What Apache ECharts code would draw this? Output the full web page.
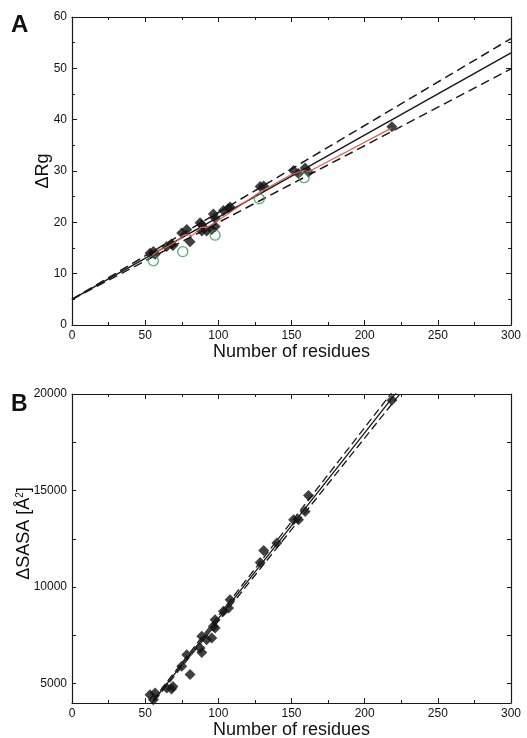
<!DOCTYPE html>
<html>
<head>
<meta charset="utf-8">
<script src="https://cdn.jsdelivr.net/npm/echarts@6/dist/echarts.min.js"></script>
<style>
html,body{margin:0;padding:0;background:#fff;}
#chart{width:527px;height:738px;}
</style>
</head>
<body>
<div id="chart"></div>
<script>
// ---------- Panel A data ----------
const residuesA = [53.3,55.6,56.8,64.7,68,69,75,78.4,80.7,87.5,88.7,88.7,92,95.5,96.6,97.8,97.8,103.5,107,108,128.6,131,151.4,154.8,159.3,161.6,218.6];
const rgA       = [14.0,14.3,13.8,15.3,15.8,15.5,17.9,18.6,16.2,19.9,18.3,19.5,18.3,18.6,21.6,20.8,19.2,22.3,22.7,23.0,27.0,27.1,30.1,29.5,30.6,29.8,38.6];
const greenX    = [55.6,75.7,97.8,128,158.6];
const greenY    = [12.5,14.3,17.5,24.6,28.7];
const redX      = [55,60,66,72,76,79,82,85,88,92,96,101,110,128,150,158,162,218];
const redY      = [13.6,14.6,15.4,16.4,17.4,17.6,17.4,18.2,19.0,19.0,19.6,20.6,22.3,25.8,29.3,30.1,29.9,38.3];
const fitAX     = [0,300];
const fitASolid = [5.0,53.0];
const fitAUpper = [5.0,55.8];
const fitALower = [5.0,49.9];

// ---------- Panel B data ----------
const residuesB = [53.3,55.6,56.8,64.7,68,69,75,78.4,80.7,87.5,88.7,88.7,92,95.5,96.6,97.8,97.8,103.5,107,108,128.6,131,140,151.4,154.8,159.3,161.6,218.6];
const sasaB     = [4430,4170,4520,4776,4720,4860,5900,6500,5470,6850,6620,7450,7280,7360,7970,8310,7880,8750,8920,9350,11280,11900,12280,13490,13490,13920,14740,19670];
const fitBX     = [0,300];
const fitBSolid = [-1240,27605];
const fitBUpper = [-1240,28010];
const fitBLower = [-1240,27200];
const yTicksB      = [5000,10000,15000,20000];
const yAllTicksB   = [5000,7500,10000,12500,15000,17500,20000];

const zip = (a,b) => a.map((v,i)=>[v,b[i]]);
const FONT = 'Liberation Sans, Arial, Helvetica, sans-serif';
const INK = '#1a1a1a';
const plain = v => String(v);

function xAx(grid, pos, labels, name){
  return {
    gridIndex: grid, type:'value', position: pos, min:0, max:300, interval:50,
    axisLine:{show:true, onZero:false, lineStyle:{color:INK, width:1.2}},
    axisTick:{show:true, inside:true, length:5, lineStyle:{color:INK}},
    minorTick:{show:true, splitNumber:2, length:3, lineStyle:{color:INK}},
    axisLabel:{show:labels, color:'#111', fontSize:12, fontFamily:FONT, margin:5, formatter:plain},
    splitLine:{show:false}, minorSplitLine:{show:false},
    name: name||'', nameLocation:'middle', nameGap:18, nameMoveOverlap:false,
    nameTextStyle:{fontSize:18, fontFamily:FONT, color:'#111'}
  };
}

const option = {
  backgroundColor:'#fff',
  animation:false,
  title:[
    {text:'A', left:11, top:13, padding:0, textStyle:{fontSize:24, fontWeight:'bold', fontFamily:FONT, color:'#111'}},
    {text:'B', left:11, top:393, padding:0, textStyle:{fontSize:23, fontWeight:'bold', fontFamily:FONT, color:'#111'}}
  ],
  grid:[
    {left:72, top:17, width:439, height:308, containLabel:false, outerBoundsMode:'none'},
    {left:72, top:394, width:439, height:309, containLabel:false, outerBoundsMode:'none'}
  ],
  xAxis:[
    xAx(0,'bottom',true,'Number of residues'),
    xAx(0,'top',false),
    xAx(1,'bottom',true,'Number of residues'),
    xAx(1,'top',false)
  ],
  yAxis:[
    // panel A left
    {gridIndex:0, type:'value', position:'left', min:0, max:60, interval:10,
     axisLine:{show:true, onZero:false, lineStyle:{color:INK, width:1.2}},
     axisTick:{show:true, inside:true, length:5, lineStyle:{color:INK}},
     minorTick:{show:true, splitNumber:2, length:3, lineStyle:{color:INK}},
     axisLabel:{color:'#111', fontSize:12, fontFamily:FONT, margin:5, formatter:plain},
     splitLine:{show:false},
     name:'ΔRg', nameLocation:'middle', nameGap:20, nameMoveOverlap:false,
     nameTextStyle:{fontSize:18, fontFamily:FONT, color:'#111'}},
    // panel A right
    {gridIndex:0, type:'value', position:'right', min:0, max:60, interval:10,
     axisLine:{show:true, onZero:false, lineStyle:{color:INK, width:1.2}},
     axisTick:{show:true, inside:true, length:5, lineStyle:{color:INK}},
     minorTick:{show:true, splitNumber:2, length:3, lineStyle:{color:INK}},
     axisLabel:{show:false}, splitLine:{show:false}},
    // panel B left
    {gridIndex:1, type:'value', position:'left', min:4000, max:20000,
     axisLine:{show:true, onZero:false, lineStyle:{color:INK, width:1.2}},
     axisTick:{show:true, inside:true, length:4, customValues:yAllTicksB, lineStyle:{color:INK}},
     axisLabel:{color:'#111', fontSize:12, fontFamily:FONT, margin:5, customValues:yTicksB, formatter:plain},
     splitLine:{show:false},
     name:'{n|ΔSASA [Å}{s|2}{n|]}', nameLocation:'middle', nameGap:39, nameMoveOverlap:false,
     nameTextStyle:{fontSize:18, fontFamily:FONT, color:'#111', padding:[0,0,0,30],
       rich:{n:{fontSize:18, fontFamily:FONT, color:'#111'}, s:{fontSize:10, fontFamily:FONT, color:'#111', verticalAlign:'top', padding:[0,0,8,0]}}}},
    // panel B right
    {gridIndex:1, type:'value', position:'right', min:4000, max:20000,
     axisLine:{show:true, onZero:false, lineStyle:{color:INK, width:1.2}},
     axisTick:{show:true, inside:true, length:4, customValues:yAllTicksB, lineStyle:{color:INK}},
     axisLabel:{show:false}, splitLine:{show:false}}
  ],
  series:[
    // Panel A
    {type:'line', xAxisIndex:0, yAxisIndex:0, data:zip(fitAX,fitASolid), symbol:'none',
     lineStyle:{color:INK, width:1.5}, z:2},
    {type:'line', xAxisIndex:0, yAxisIndex:0, data:zip(fitAX,fitAUpper), symbol:'none',
     lineStyle:{color:INK, width:1.5, type:[9,5]}, z:2},
    {type:'line', xAxisIndex:0, yAxisIndex:0, data:zip(fitAX,fitALower), symbol:'none',
     lineStyle:{color:INK, width:1.5, type:[9,5]}, z:2},
    {type:'scatter', xAxisIndex:0, yAxisIndex:0, data:zip(residuesA,rgA), symbol:'diamond', symbolSize:11,
     itemStyle:{color:'#111'}, z:3},
    {type:'scatter', xAxisIndex:0, yAxisIndex:0, data:zip(greenX,greenY), symbol:'circle', symbolSize:10,
     itemStyle:{color:'rgba(0,0,0,0)', borderColor:'#3f9a5c', borderWidth:1.4}, z:4},
    {type:'line', xAxisIndex:0, yAxisIndex:0, data:zip(redX,redY), symbol:'none',
     lineStyle:{color:'#e0604e', width:1.2}, z:5},
    // Panel B
    {type:'line', xAxisIndex:2, yAxisIndex:2, data:zip(fitBX,fitBSolid), symbol:'none', clip:true,
     lineStyle:{color:INK, width:1.3}, z:2},
    {type:'line', xAxisIndex:2, yAxisIndex:2, data:zip(fitBX,fitBUpper), symbol:'none', clip:true,
     lineStyle:{color:INK, width:1.3, type:[8,4]}, z:2},
    {type:'line', xAxisIndex:2, yAxisIndex:2, data:zip(fitBX,fitBLower), symbol:'none', clip:true,
     lineStyle:{color:INK, width:1.3, type:[8,4]}, z:2},
    {type:'scatter', xAxisIndex:2, yAxisIndex:2, data:zip(residuesB,sasaB), symbol:'diamond', symbolSize:11,
     itemStyle:{color:'#111'}, z:3}
  ]
};

const chart = echarts.init(document.getElementById('chart'), null, {renderer:'canvas'});
chart.setOption(option);
</script>
</body>
</html>
